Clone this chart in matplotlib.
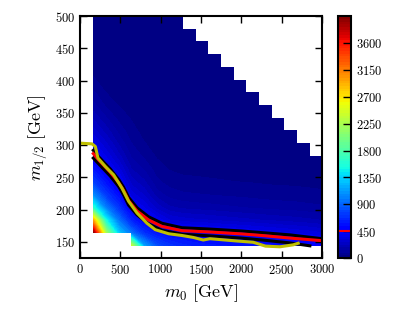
import numpy as np
import matplotlib
matplotlib.use('Agg')
import matplotlib.pyplot as plt

plt.rcParams['font.family'] = 'serif'
plt.rcParams['font.serif'] = ['cmr10']
plt.rcParams['mathtext.fontset'] = 'cm'
plt.rcParams['axes.formatter.use_mathtext'] = True

# grid of the scan
m0 = [166, 323, 481, 638, 796, 953, 1111, 1268, 1426, 1583, 1740, 1898, 2055, 2213, 2370, 2527, 2685, 2843, 3000]
m12 = [144, 164, 184, 203, 223, 243, 263, 282, 302, 322, 342, 362, 381, 401, 421, 441, 460, 480, 500]

nan = np.nan
# one list per m0 column, values along m12 (nan = no point)
z_cols = [
    [nan, 4000, 2900, 1600, 1050, 750, 580, 470, 380, 290, 215, 150, 100, 50, 30, 18, 10, 6, 4],
    [nan, 2200, 1500, 1000, 720, 560, 452, 360, 280, 205, 140, 80, 45, 26, 15, 9, 6, 4, 3],
    [nan, 1300, 950, 700, 540, 440, 330, 245, 175, 120, 75, 43, 25, 15, 9, 6, 4, 3, 2],
    [2400, 950, 620, 455, 340, 250, 180, 130, 92, 62, 40, 26, 17, 11, 7, 5, 3, 2, 2],
    [1150, 680, 480, 360, 265, 190, 130, 82, 48, 29, 20, 13, 8, 5, 4, 3, 2, 2, 1],
    [820, 570, 400, 255, 160, 102, 65, 41, 27, 17, 11, 7, 5, 3, 2, 2, 1, 1, 1],
    [700, 520, 315, 190, 115, 70, 42, 25, 15, 9, 6, 4, 2, 2, 1, 1, 1, 1, 1],
    [650, 500, 293, 171, 99, 58, 34, 20, 12, 7, 4, 2, 1, 1, 1, 1, 1, 1, 1],
    [620, 475, 278, 161, 94, 55, 32, 19, 11, 6, 4, 2, 1, 1, 1, 1, 1, 1, nan],
    [600, 465, 270, 156, 90, 52, 30, 17, 10, 6, 3, 2, 1, 1, 1, 1, 1, nan, nan],
    [590, 446, 257, 148, 85, 49, 28, 16, 9, 5, 3, 2, 1, 1, 1, 1, nan, nan, nan],
    [580, 434, 246, 141, 81, 46, 27, 15, 9, 5, 3, 2, 1, 1, 1, nan, nan, nan, nan],
    [570, 420, 236, 134, 77, 44, 25, 14, 8, 5, 3, 2, 1, 1, nan, nan, nan, nan, nan],
    [560, 400, 226, 127, 72, 41, 23, 13, 7, 4, 2, 1, 1, nan, nan, nan, nan, nan, nan],
    [550, 385, 215, 121, 68, 38, 22, 12, 7, 4, 2, 1, nan, nan, nan, nan, nan, nan, nan],
    [540, 368, 207, 116, 65, 37, 21, 12, 7, 4, 2, nan, nan, nan, nan, nan, nan, nan, nan],
    [525, 353, 199, 112, 63, 35, 20, 11, 6, 3, nan, nan, nan, nan, nan, nan, nan, nan, nan],
    [510, 337, 188, 105, 59, 33, 18, 10, 6, nan, nan, nan, nan, nan, nan, nan, nan, nan, nan],
    [495, 317, 177, 99, 55, 31, 17, 10, nan, nan, nan, nan, nan, nan, nan, nan, nan, nan, nan],
]

# limit curves
red_x = [165, 232, 376, 479, 540, 603, 707, 851, 1016, 1264, 1600, 2000, 2300, 2600, 3000]
red_y = [287, 277, 258, 242, 230, 214, 198, 184, 174, 167.5, 165.5, 162.5, 159.5, 156, 152]
blk_up_x = [165, 232, 376, 479, 540, 603, 707, 851, 1016, 1264, 1600, 2000, 2300, 2600, 3000]
blk_up_y = [292, 282, 263, 247, 235, 219, 203, 189, 179, 172, 170, 167, 164, 161, 155]
blk_lo_x = [165, 232, 376, 479, 540, 603, 707, 851, 1016, 1264, 1600, 2000, 2300, 2600, 2850]
blk_lo_y = [280, 271, 252, 236, 223, 207, 192, 178, 168, 162, 159.5, 156, 152.5, 148.5, 144]
yel_x = [20, 149, 190, 223, 314, 417, 520, 603, 706, 830, 933, 1099, 1264, 1404, 1528, 1611,
         1941, 2148, 2300, 2478, 2643, 2705]
yel_y = [303, 302, 298, 280, 267, 254, 233.5, 213, 195, 179, 169, 162.7, 160, 157, 153, 155,
         151.5, 149.5, 143.5, 142.5, 145.5, 148]

red_level = 450
levels = np.arange(0, 4051, 45)
cbar_ticks = np.arange(0, 3601, 450)

Z = np.ma.masked_invalid(np.array(z_cols).T)

fig = plt.figure(figsize=(4.04, 3.23), dpi=100)
ax = fig.add_axes([0.198, 0.201, 0.599, 0.749])
cax = fig.add_axes([0.837, 0.201, 0.031, 0.749])

cs = ax.contourf(m0, m12, Z, levels=levels, cmap='jet', corner_mask=False, antialiased=False)
ax.plot(blk_up_x, blk_up_y, color='k', lw=2.2)
ax.plot(blk_lo_x, blk_lo_y, color='k', lw=2.2)
ax.plot(red_x, red_y, color='r', lw=2.2)
ax.plot(yel_x, yel_y, color=(0.75, 0.75, 0), lw=2.2)

ax.set_xlim(0, 3000)
ax.set_ylim(125, 500)
ax.set_xticks(range(0, 3001, 500))
ax.set_yticks(range(150, 501, 50))
ax.tick_params(direction='in', length=5, width=1, top=True, right=True, labelsize=9)
for s in ax.spines.values():
    s.set_linewidth(1.5)
ax.set_xlabel(r'$m_0\ [\mathrm{GeV}]$', fontsize=13)
ax.set_ylabel(r'$m_{1/2}\ [\mathrm{GeV}]$', fontsize=13)

cb = fig.colorbar(cs, cax=cax, ticks=cbar_ticks)
cb.ax.axhline(red_level, color='r', lw=1.5)
cb.ax.tick_params(direction='in', length=6, width=1, labelsize=9)
cb.outline.set_linewidth(1.5)

fig.savefig('out.png', dpi=100)
